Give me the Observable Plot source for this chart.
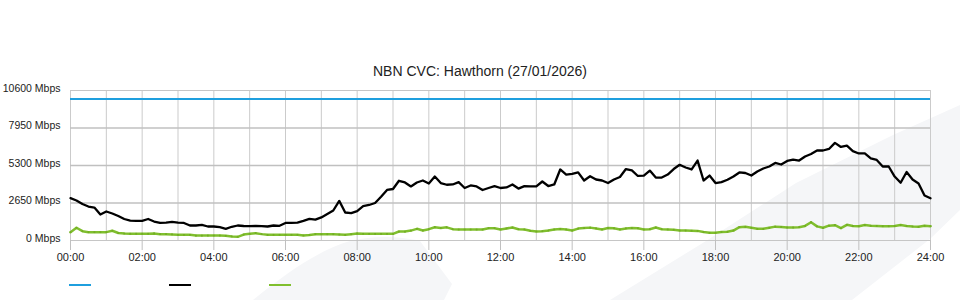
<!DOCTYPE html>
<html>
<head>
<meta charset="utf-8">
<script src="https://cdn.jsdelivr.net/npm/d3@7"></script>
<script src="https://cdn.jsdelivr.net/npm/@observablehq/plot@0.6"></script>
<style>
  html, body { margin: 0; padding: 0; background: #fff; }
  body { width: 960px; height: 300px; position: relative; overflow: hidden;
         font-family: "Liberation Sans", Arial, sans-serif; }
  #bg { position: absolute; left: 0; top: 0; z-index: 0; }
  #title { position: relative; z-index: 1; height: 80px; box-sizing: border-box; padding-top: 63px;
           text-align: center; font-size: 14px; line-height: 16px; color: #222; }
  #chart { position: relative; z-index: 1; height: 190px; }
  #legend { position: absolute; z-index: 1; left: 0; top: 284px; width: 960px; height: 4px; }
  .sw { position: absolute; top: 0; width: 22px; height: 2px; }
</style>
</head>
<body>
<svg id="bg" width="960" height="300">
  <path d="M253,300 C290,270 320,250 350,241 Q385,233 420,241 L452,284 L444,300 Z" fill="#f5f6f8"/>
  <path d="M610,300 L706,241 L796,183 L893,135 L960,105 L960,210 L930,239 L852,300 Z" fill="#f5f6f8"/>
</svg>
<div id="title">NBN CVC: Hawthorn (27/01/2026)</div>
<div id="chart"></div>
<div id="legend"></div>
<script>
// ---- data (10-minute samples from 00:00 to 24:00) ----
const stepMinutes = 10;
const seriesNames = ["Capacity", "Traffic", "Upload"];
const seriesColors = ["#1f9fde", "#000000", "#80bf2e"];
const capacity = 10000;
const traffic = [
  2990,2830,2580,2400,2330,1840,2050,1910,1730,1520,1410,1380,1390,1520,1340,1240,1270,1310,1270,1240,1060,1060,1100,990,990,
  940,827,970,1060,1025,1010,1025,1010,990,1060,1040,1240,1250,1270,1390,1530,1480,1630,1870,2120,2800,1980,1940,2080,2430,
  2510,2650,3090,3570,3640,4220,4100,3820,4100,4240,4030,4520,4060,3940,3960,4120,3710,3890,3820,3570,3710,3840,3710,
  3750,3960,3670,3840,3820,3820,4170,3850,3960,5020,4660,4710,4810,4240,4540,4310,4240,4060,4310,4490,5050,4950,4560,4590,4940,
  4450,4450,4660,5050,5350,5160,5020,5650,4240,4590,4060,4130,4290,4520,4810,4770,4590,4880,5090,5230,5480,5370,5620,5720,
  5650,5940,6110,6360,6360,6470,6900,6610,6710,6320,6150,6160,5800,5690,5230,5230,4520,4080,4840,4310,4030,3180,2990
];
const upload = [
  590,900,660,590,590,590,590,690,530,495,475,475,475,475,495,445,445,425,400,400,400,350,350,350,350,
  350,330,290,260,420,470,520,450,400,400,400,400,400,400,360,390,445,445,445,445,420,400,445,495,470,
  470,470,470,470,470,635,635,700,825,705,800,940,880,930,800,775,775,775,775,775,870,870,780,
  850,920,800,780,685,640,660,700,780,820,780,705,840,880,910,850,780,880,860,780,850,880,860,780,800,
  920,800,780,760,705,700,690,680,600,545,545,600,620,700,940,965,900,825,825,900,980,960,920,920,
  940,1030,1290,1000,900,1050,1080,870,1110,1020,1010,1090,1040,1030,1010,1010,1020,1090,1020,990,970,1040,1010
];
const yTicks = [0, 2650, 5300, 7950, 10600];
const yFrame = [0, 10600];
const yInner = [2650, 5300, 7950];
const xTicks = [0, 2, 4, 6, 8, 10, 12, 14, 16, 18, 20, 22, 24];
const hourGrid = [0,1,2,3,4,5,6,7,8,9,10,11,12,13,14,15,16,17,18,19,20,21,22,23,24];

const rows = traffic.map((v, i) => ({ h: i * stepMinutes / 60, traffic: v, upload: upload[i] }));

const chart = Plot.plot({
  width: 960,
  height: 190,
  marginLeft: 70,
  marginRight: 30,
  marginTop: 10,
  marginBottom: 30,
  style: { background: "transparent", fontFamily: "Liberation Sans, Arial, sans-serif", fontSize: "11px", color: "#222" },
  x: { domain: [0, 24] },
  y: { domain: [0, 10600] },
  marks: [
    Plot.ruleX(hourGrid, { x: d => d, stroke: "#cbcbcb", strokeWidth: 1 }),
    Plot.ruleY(yInner, { y: d => d, stroke: "#c0c0c0", strokeWidth: 1.6 }),
    Plot.ruleY(yFrame, { y: d => d, stroke: "#c6c6c6", strokeWidth: 1 }),
    Plot.axisY(yTicks, { tickSize: 0, tickPadding: 10, dy: -2, fontSize: 10.5, tickFormat: d => `${d} Mbps`, label: null, fill: "#222" }),
    Plot.axisX(xTicks, { tickSize: 10, tickPadding: 3, tickFormat: h => String(h).padStart(2, "0") + ":00", label: null, stroke: "#c0c0c0", fill: "#222" }),
    Plot.ruleY([capacity], { stroke: seriesColors[0], strokeWidth: 2 }),
    Plot.line(rows, { x: "h", y: "upload", stroke: seriesColors[2], strokeWidth: 2.5 }),
    Plot.dot(rows, { x: "h", y: "upload", symbol: "square", r: 1, fill: "#72ad24" }),
    Plot.line(rows, { x: "h", y: "traffic", stroke: seriesColors[1], strokeWidth: 2.3 })
  ]
});
document.getElementById("chart").appendChild(chart);

const legend = document.getElementById("legend");
seriesNames.forEach((name, i) => {
  const s = document.createElement("div");
  s.className = "sw";
  s.title = name;
  s.style.left = (69 + i * 100) + "px";
  s.style.background = seriesColors[i];
  legend.appendChild(s);
});
</script>
</body>
</html>
